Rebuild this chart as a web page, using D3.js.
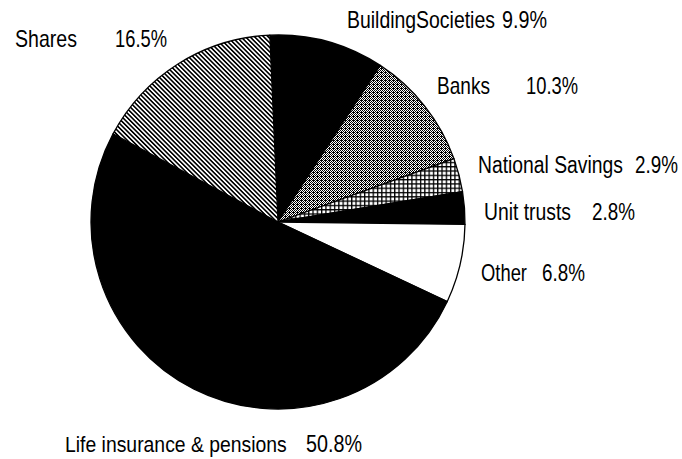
<!DOCTYPE html>
<html>
<head>
<meta charset="utf-8">
<script src="https://cdn.jsdelivr.net/npm/d3@7/dist/d3.min.js"></script>
<style>
  html, body { margin: 0; padding: 0; background: #fff; }
  svg { display: block; }
  text { font-family: "Liberation Sans", Arial, Helvetica, sans-serif; fill: #000; }
</style>
</head>
<body>
<svg id="chart" width="682" height="459"></svg>
<script>
// ---- data ----
const categories = ["BuildingSocieties", "Banks", "National Savings", "Unit trusts", "Other", "Life insurance & pensions", "Shares"];
const shares = [9.9, 10.3, 2.9, 2.8, 6.8, 50.8, 16.5];
const valueLabels = ["9.9%", "10.3%", "2.9%", "2.8%", "6.8%", "50.8%", "16.5%"];

// ---- layout (positions / styles, not data) ----
const fills = ["#000", "url(#stipple)", "url(#grid)", "#000", "#fff", "#000", "url(#hatch)"];
// [nameX, nameWidth, valueX, valueWidth, baselineY]
const labelLayout = [
  [347, 148, 502, 45, 28],
  [437, 53, 526, 52, 94],
  [478, 145, 635, 43, 173],
  [484, 87, 592, 43, 220],
  [481, 46, 542, 43, 281],
  [65, 222, 306, 56, 452],
  [15, 62, 115, 52, 47]
];

const svg = d3.select("#chart");
const defs = svg.append("defs");

// diagonal hatch
const hatch = defs.append("pattern").attr("id", "hatch")
  .attr("patternUnits", "userSpaceOnUse").attr("width", 8).attr("height", 3.2)
  .attr("patternTransform", "rotate(45)");
hatch.append("rect").attr("width", 8).attr("height", 3.2).attr("fill", "#fff");
hatch.append("rect").attr("y", 0).attr("width", 8).attr("height", 1.6).attr("fill", "#000");

// grid crosshatch
const grid = defs.append("pattern").attr("id", "grid")
  .attr("patternUnits", "userSpaceOnUse").attr("width", 4.3).attr("height", 4.3);
grid.append("rect").attr("width", 4.3).attr("height", 4.3).attr("fill", "#000");
grid.append("rect").attr("x", 1.3).attr("y", 1.3).attr("width", 3).attr("height", 3).attr("fill", "#fff");

// stipple (gray dither)
const stip = defs.append("pattern").attr("id", "stipple")
  .attr("patternUnits", "userSpaceOnUse").attr("width", 4).attr("height", 4);
stip.append("rect").attr("width", 4).attr("height", 4).attr("fill", "#fff");
const dots = [[0,0],[2,0],[1,1],[3,1],[0,2],[2,2],[1,3],[3,3],[3,2]];
dots.forEach(d => stip.append("rect").attr("x", d[0]).attr("y", d[1]).attr("width", 1).attr("height", 1).attr("fill", "#000"));

// ---- pie ----
const cx = 278, cy = 222, r = 187;
const offset = -2.5 * Math.PI / 180;
const pie = d3.pie().sort(null).value(d => d).startAngle(offset).endAngle(offset + 2 * Math.PI);
const arc = d3.arc().innerRadius(0).outerRadius(r);

const g = svg.append("g").attr("transform", `translate(${cx},${cy})`);
g.selectAll("path.slice").data(pie(shares)).enter().append("path")
  .attr("class", "slice")
  .attr("d", arc)
  .attr("fill", (d, i) => fills[i])
  .attr("stroke", "#000")
  .attr("stroke-width", 1.3)
  .attr("stroke-linejoin", "round");

// ---- labels ----
const lab = svg.append("g").attr("class", "labels");
function fitText(str, x, y, w) {
  const t = lab.append("text").attr("x", 0).attr("y", 0).attr("font-size", 23).text(str);
  const nat = t.node().getComputedTextLength();
  const s = w / nat;
  t.attr("transform", `translate(${x},${y}) scale(${s},1)`);
}
categories.forEach((c, i) => {
  const L = labelLayout[i];
  fitText(c, L[0], L[4], L[1]);
  fitText(valueLabels[i], L[2], L[4], L[3]);
});
</script>
</body>
</html>
